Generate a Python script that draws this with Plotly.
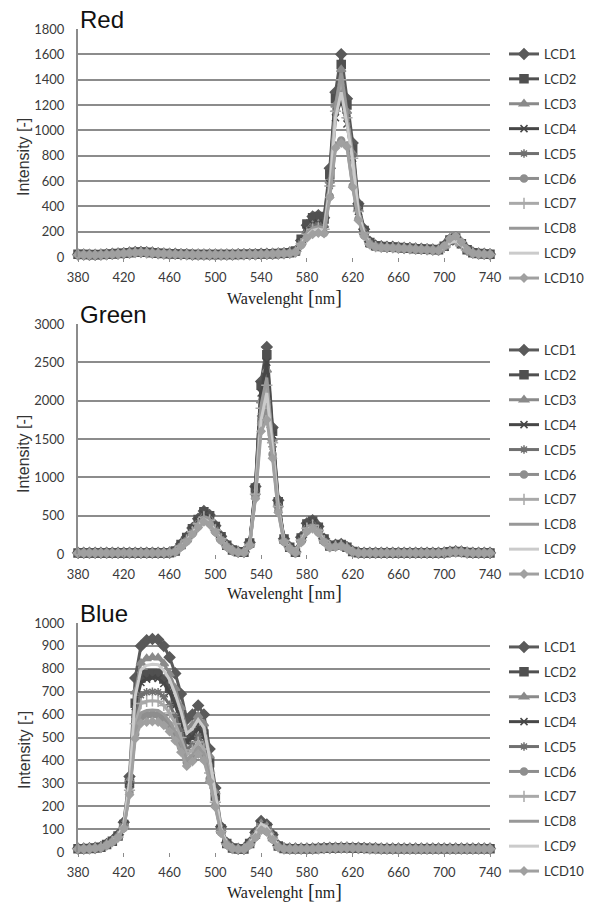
import plotly.graph_objects as go

# ---------------- data ----------------
wavelength = list(range(380, 745, 5))
lcd_names = ["LCD1", "LCD2", "LCD3", "LCD4", "LCD5", "LCD6", "LCD7", "LCD8", "LCD9", "LCD10"]
x_ticks = [380, 420, 460, 500, 540, 580, 620, 660, 700, 740]

red_lcd1 = [20,20,18,18,20,22,25,28,30,35, 40,40,38,35,30,28,25,25,22,22, 20,20,20,20,20,20,20,20,22,22,
            22,22,25,25,25,28,30,35,45,130, 250,320,330,310,700,1300,1600,1250,900,420,
            220,120,90,85,80,80,75,72,70,68, 65,62,60,58,90,140,155,110,60,35, 28,25,22]
red_lcd2 = [22,20,20,18,20,22,24,27,30,34, 38,40,38,34,30,28,26,24,22,22, 20,20,20,20,20,20,20,20,20,22,
            22,22,24,25,26,28,30,34,48,140, 260,310,320,300,650,1250,1520,1200,850,400,
            210,115,88,82,80,78,75,72,70,66, 64,62,60,57,85,135,150,105,58,34, 27,24,22]
red_lcd3 = [18,18,17,17,18,20,22,25,28,32, 36,37,35,32,28,26,24,22,21,20, 19,19,19,19,19,19,19,19,20,20,
            21,21,22,23,24,26,28,32,40,110, 200,250,260,250,600,1200,1480,1150,820,380,
            200,110,85,80,78,76,73,70,68,65, 62,60,58,55,80,125,140,100,55,32, 26,23,21]
red_lcd4 = [20,19,18,18,19,21,23,26,29,33, 37,38,36,33,29,27,25,23,22,21, 20,20,20,20,20,20,20,20,21,21,
            22,22,23,24,25,27,29,33,42,115, 210,260,270,260,580,1100,1250,1050,780,360,
            190,105,82,78,76,74,72,70,67,64, 62,60,57,55,78,120,135,98,54,31, 25,22,20]
red_lcd5 = [19,19,18,17,19,21,23,26,29,33, 37,38,36,33,29,27,25,23,22,21, 20,20,20,20,20,20,20,20,21,21,
            22,22,23,24,25,27,29,33,42,110, 190,240,250,240,560,1150,1350,1100,800,370,
            195,108,84,79,77,75,72,70,67,64, 62,60,57,55,76,118,132,96,53,31, 25,22,20]
red_lcd6 = [17,17,16,16,17,19,21,24,27,31, 34,35,33,30,27,25,23,21,20,19, 18,18,18,18,18,18,18,18,19,19,
            20,20,21,22,23,25,27,30,38,95, 160,190,200,190,480,880,920,880,560,300,
            170,100,80,76,74,72,70,68,65,62, 60,58,55,53,85,140,160,115,58,30, 24,21,19]
red_lcd7 = [18,18,17,17,18,20,22,25,28,32, 36,37,35,32,28,26,24,22,21,20, 19,19,19,19,19,19,19,19,20,20,
            21,21,22,23,24,26,28,32,40,105, 180,220,230,220,560,1150,1400,1100,780,360,
            190,105,82,78,76,74,72,70,67,64, 62,60,57,55,75,115,128,95,52,30, 25,22,20]
red_lcd8 = [18,18,17,17,18,20,22,25,28,32, 36,37,35,32,28,26,24,22,21,20, 19,19,19,19,19,19,19,19,20,20,
            21,21,22,23,24,26,28,32,40,108, 190,230,240,230,580,1180,1450,1120,790,370,
            195,108,84,79,77,75,72,70,67,64, 62,60,57,55,78,120,135,98,54,31, 25,22,20]
red_lcd9 = [17,17,16,16,17,19,21,24,27,31, 35,36,34,31,27,25,23,21,20,19, 18,18,18,18,18,18,18,18,19,19,
            20,20,21,22,23,25,27,31,38,100, 170,210,220,210,540,1100,1300,1050,760,350,
            185,104,82,78,76,74,71,69,66,63, 61,59,56,54,74,112,126,94,52,30, 24,21,19]
red_lcd10 = [17,17,16,16,17,19,21,24,27,31, 34,35,33,30,27,25,23,21,20,19, 18,18,18,18,18,18,18,18,19,19,
             20,20,21,22,23,25,27,30,37,90, 150,180,190,185,470,860,900,870,550,290,
             165,98,78,75,73,71,69,67,64,61, 59,57,54,52,88,145,165,118,58,30, 24,21,19]

green_lcd1 = [15,15,15,15,15,15,15,15,15,15, 15,15,15,15,15,15,18,40,130,220, 340,460,560,510,370,230,120,55,30,25,
              150,880,2250,2700,1650,700,200,90,25,220, 400,440,360,200,110,120,130,90,35,18,
              15,15,15,15,15,15,15,15,15,15, 15,15,15,15,18,30,35,32,20,15, 15,15,15]
green_lcd2 = [14,14,14,14,14,14,14,14,14,14, 14,14,14,14,14,14,17,38,125,215, 330,450,550,500,360,225,115,52,28,24,
              145,860,2200,2600,1600,680,195,88,24,210, 390,430,350,195,105,115,125,88,33,17,
              14,14,14,14,14,14,14,14,14,14, 14,14,14,14,17,28,33,30,19,14, 14,14,14]
green_lcd3 = [13,13,13,13,13,13,13,13,13,13, 13,13,13,13,13,13,16,34,110,190, 300,410,500,460,330,205,105,48,26,22,
              130,800,2000,2400,1500,640,180,80,22,190, 350,390,320,180,98,108,115,82,30,16,
              13,13,13,13,13,13,13,13,13,13, 13,13,13,13,16,26,30,28,18,13, 13,13,13]
green_lcd4 = [14,14,14,14,14,14,14,14,14,14, 14,14,14,14,14,14,17,36,118,200, 315,430,520,480,345,215,110,50,27,23,
              140,840,2100,2500,1550,660,190,84,23,200, 370,410,335,188,100,110,120,85,32,16,
              14,14,14,14,14,14,14,14,14,14, 14,14,14,14,16,27,31,29,18,14, 14,14,14]
green_lcd5 = [13,13,13,13,13,13,13,13,13,13, 13,13,13,13,13,13,15,32,100,175, 280,380,460,420,300,190,98,45,25,21,
              120,760,1800,2000,1400,600,170,76,21,170, 320,360,300,170,92,100,108,78,29,15,
              13,13,13,13,13,13,13,13,13,13, 13,13,13,13,15,25,29,27,17,13, 13,13,13]
green_lcd6 = [12,12,12,12,12,12,12,12,12,12, 12,12,12,12,12,12,15,30,95,165, 265,360,440,400,290,180,94,43,24,20,
              115,740,1700,1900,1300,560,160,72,20,160, 300,340,285,160,88,96,104,75,28,14,
              12,12,12,12,12,12,12,12,12,12, 12,12,12,12,15,24,28,26,16,12, 12,12,12]
green_lcd7 = [13,13,13,13,13,13,13,13,13,13, 13,13,13,13,13,13,16,33,105,182, 290,395,480,440,315,198,100,46,25,21,
              125,780,1900,2200,1450,620,175,78,21,180, 335,375,310,175,95,104,112,80,29,15,
              13,13,13,13,13,13,13,13,13,13, 13,13,13,13,15,25,29,27,17,13, 13,13,13]
green_lcd8 = [13,13,13,13,13,13,13,13,13,13, 13,13,13,13,13,13,16,33,108,186, 295,400,490,450,322,200,102,47,25,21,
              128,790,1950,2300,1480,630,178,80,22,185, 340,380,315,178,96,105,113,81,29,15,
              13,13,13,13,13,13,13,13,13,13, 13,13,13,13,16,26,30,28,17,13, 13,13,13]
green_lcd9 = [12,12,12,12,12,12,12,12,12,12, 12,12,12,12,12,12,15,31,98,172, 275,375,455,415,298,186,96,44,24,20,
              118,750,1750,2100,1380,590,168,75,20,170, 315,355,295,166,90,98,106,76,28,14,
              12,12,12,12,12,12,12,12,12,12, 12,12,12,12,15,24,28,26,16,12, 12,12,12]
green_lcd10 = [12,12,12,12,12,12,12,12,12,12, 12,12,12,12,12,12,14,28,90,158, 255,345,420,385,280,175,90,42,23,19,
               110,720,1600,1750,1250,540,155,70,19,150, 290,330,275,155,86,94,100,72,27,14,
               12,12,12,12,12,12,12,12,12,12, 12,12,12,12,14,23,27,25,16,12, 12,12,12]

blue_lcd1 = [15,15,16,18,22,35,50,75,130,330, 760,900,925,930,928,900,850,780,690,580, 600,640,600,450,280,110,40,18,14,14,
             40,85,135,120,75,28,16,15,15,15, 15,15,16,17,18,19,20,20,19,18,
             17,16,16,15,15,15,15,15,15,15, 15,15,15,15,15,15,15,15,15,15, 15,15,15]
blue_lcd2 = [14,14,15,17,21,33,47,70,120,300, 650,760,775,780,778,755,715,655,580,490, 510,550,515,390,245,100,37,17,13,13,
             37,78,120,108,68,26,15,14,14,14, 14,14,15,16,17,18,19,19,18,17,
             16,15,15,14,14,14,14,14,14,14, 14,14,14,14,14,14,14,14,14,14, 14,14,14]
blue_lcd3 = [15,15,16,18,22,34,49,72,125,315, 700,825,845,850,848,822,778,715,632,535, 555,595,560,420,262,105,38,17,13,13,
             38,80,125,112,70,27,15,14,14,14, 14,14,15,16,17,18,19,19,18,17,
             16,15,15,14,14,14,14,14,14,14, 14,14,14,14,14,14,14,14,14,14, 14,14,14]
blue_lcd4 = [14,14,15,17,21,33,47,70,118,295, 635,740,755,760,758,736,698,640,568,482, 500,540,505,385,240,98,36,16,13,13,
             36,76,118,106,66,25,15,14,14,14, 14,14,15,16,17,18,19,19,18,17,
             16,15,15,14,14,14,14,14,14,14, 14,14,14,14,14,14,14,14,14,14, 14,14,14]
blue_lcd5 = [14,14,15,17,20,32,46,68,112,280, 590,685,698,700,698,678,643,592,527,448, 468,505,472,360,226,93,35,16,13,13,
             35,72,110,100,62,24,15,14,14,14, 14,14,15,16,17,18,19,19,18,17,
             16,15,15,14,14,14,14,14,14,14, 14,14,14,14,14,14,14,14,14,14, 14,14,14]
blue_lcd6 = [13,13,14,16,19,30,44,64,105,260, 515,590,598,600,598,582,553,510,457,392, 412,445,418,320,203,85,32,15,12,12,
             32,65,98,90,56,22,14,13,13,13, 13,13,14,15,16,17,18,18,17,16,
             15,14,14,13,13,13,13,13,13,13, 13,13,13,13,13,13,13,13,13,13, 13,13,13]
blue_lcd7 = [14,14,15,17,20,31,45,66,108,270, 560,648,658,660,658,640,607,560,500,425, 445,480,450,345,217,90,34,16,13,13,
             34,70,105,96,60,23,15,14,14,14, 14,14,15,16,17,18,19,19,18,17,
             16,15,15,14,14,14,14,14,14,14, 14,14,14,14,14,14,14,14,14,14, 14,14,14]
blue_lcd8 = [13,13,14,16,19,30,44,65,106,262, 530,608,618,620,618,601,571,527,472,404, 424,458,430,330,209,87,33,15,12,12,
             33,67,100,92,57,22,14,13,13,13, 13,13,14,15,16,17,18,18,17,16,
             15,14,14,13,13,13,13,13,13,13, 13,13,13,13,13,13,13,13,13,13, 13,13,13]
blue_lcd9 = [14,14,15,17,21,33,48,71,122,308, 680,795,815,820,818,793,752,690,612,518, 538,578,543,410,256,103,37,17,13,13,
             37,78,122,110,69,26,15,14,14,14, 14,14,15,16,17,18,19,19,18,17,
             16,15,15,14,14,14,14,14,14,14, 14,14,14,14,14,14,14,14,14,14, 14,14,14]
blue_lcd10 = [13,13,14,16,19,30,43,63,102,250, 495,562,568,570,568,553,526,486,436,375, 395,428,400,308,196,82,31,15,12,12,
              31,62,95,87,54,21,14,13,13,13, 13,13,14,15,16,17,18,18,17,16,
              15,14,14,13,13,13,13,13,13,13, 13,13,13,13,13,13,13,13,13,13, 13,13,13]

red_series = [red_lcd1, red_lcd2, red_lcd3, red_lcd4, red_lcd5, red_lcd6, red_lcd7, red_lcd8, red_lcd9, red_lcd10]
green_series = [green_lcd1, green_lcd2, green_lcd3, green_lcd4, green_lcd5, green_lcd6, green_lcd7, green_lcd8, green_lcd9, green_lcd10]
blue_series = [blue_lcd1, blue_lcd2, blue_lcd3, blue_lcd4, blue_lcd5, blue_lcd6, blue_lcd7, blue_lcd8, blue_lcd9, blue_lcd10]

# ---------------- styles ----------------
colors = ["#5a5a5a", "#505050", "#8a8a8a", "#474747", "#707070",
          "#8e8e8e", "#a9a9a9", "#989898", "#cbcbcb", "#a0a0a0"]
symbols = ["diamond", "square", "triangle-up", "x-thin-open", "asterisk-open",
           "circle", "cross-thin-open", "circle", "circle", "diamond"]
msizes = [8, 8, 8, 7, 7, 7, 8, 0, 0, 6]
show_marker = [True, True, True, True, True, True, True, False, False, True]

W, H = 590, 904
L, R = 78, 100

def py(px):
    return 1 - px / H

panels = [
    dict(name="Red", series=red_series, ymax=1800, dtick=200, top=29, bot=257, ylab=157, xlab=297, leg=39),
    dict(name="Green", series=green_series, ymax=3000, dtick=500, top=324, bot=554, ylab=454, xlab=592, leg=335),
    dict(name="Blue", series=blue_series, ymax=1000, dtick=100, top=623, bot=852, ylab=750, xlab=891, leg=632),
]

fig = go.Figure()
tick_font = dict(family="Lato, 'Open Sans', sans-serif", size=13, color="#3a3a3a")
grid_col = "#8c8c8c"
annotations = []

for p_i, p in enumerate(panels):
    sfx = "" if p_i == 0 else str(p_i + 1)
    legname = "legend" + sfx
    for i, (nm, ys) in enumerate(zip(lcd_names, p["series"])):
        mk = dict(symbol=symbols[i], size=msizes[i], color=colors[i],
                  line=dict(width=1.5, color=colors[i]))
        fig.add_trace(go.Scatter(
            x=wavelength, y=ys, name=nm,
            mode="lines+markers" if show_marker[i] else "lines",
            line=dict(color=colors[i], width=3),
            marker=mk if show_marker[i] else None,
            xaxis="x" + sfx, yaxis="y" + sfx,
            legend=legname, legendgroup=p["name"] + nm,
            cliponaxis=False,
        ))
    fig.update_layout({
        "xaxis" + sfx: dict(
            domain=[0, 1], anchor="y" + sfx, range=[380, 740],
            tickvals=x_ticks, ticktext=[str(t) for t in x_ticks],
            showgrid=False, zeroline=False, showline=False,
            ticks="outside", ticklen=4, tickcolor=grid_col, tickwidth=1,
            ticklabelstandoff=4, tickfont=tick_font,
        ),
        "yaxis" + sfx: dict(
            domain=[py(p["bot"]), py(p["top"])], anchor="x" + sfx,
            range=[0, p["ymax"]], dtick=p["dtick"], tick0=0,
            showgrid=True, gridcolor=grid_col, gridwidth=2,
            zeroline=False, showline=True, linecolor=grid_col, linewidth=2,
            ticks="", ticklabelstandoff=9, tickfont=tick_font,
        ),
        legname: dict(
            x=(504 - L) / (W - L - R), xanchor="left",
            y=py(p["leg"]), yanchor="top",
            font=dict(family="Lato, 'Open Sans', sans-serif", size=13, color="#333333"),
            tracegroupgap=5, itemwidth=30, bgcolor="rgba(0,0,0,0)",
        ),
    })
    # panel title
    annotations.append(dict(
        text=p["name"], xref="paper", yref="paper", x=0, y=py(p["top"]),
        xanchor="left", yanchor="bottom", yshift=-6, showarrow=False,
        font=dict(family="Liberation Sans, Arial, sans-serif", size=24, color="#111111"),
    ))
    # y title
    annotations.append(dict(
        text="Intensity [-]", xref="paper", yref="paper",
        x=(24 - L) / (W - L - R), y=py(p["ylab"]), textangle=-90,
        xanchor="center", yanchor="middle", showarrow=False,
        font=dict(family="Liberation Sans, Arial, sans-serif", size=16, color="#333333"),
    ))
    # x title
    annotations.append(dict(
        text="Wavelenght<span style='font-size:20px'> [</span>nm<span style='font-size:20px'>]</span>",
        xref="paper", yref="paper", x=0.5, y=py(p["xlab"]),
        xanchor="center", yanchor="middle", showarrow=False,
        font=dict(family="Liberation Serif, 'Times New Roman', serif", size=16, color="#222222"),
    ))

fig.update_layout(
    width=W, height=H,
    margin=dict(l=L, r=R, t=0, b=0, autoexpand=False),
    paper_bgcolor="white", plot_bgcolor="white",
    annotations=annotations,
    showlegend=True,
)

fig.write_html("out.html", config={"displayModeBar": False},
               post_script="document.body.style.margin='0';")
